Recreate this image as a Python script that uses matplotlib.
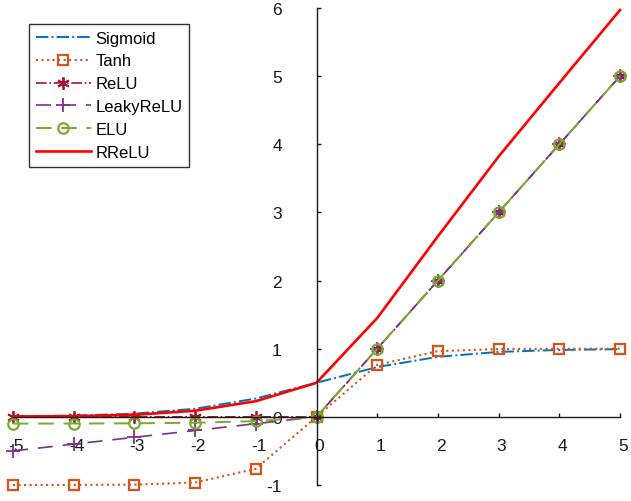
import numpy as np
import matplotlib
matplotlib.use("Agg")
import matplotlib.pyplot as plt
import matplotlib.transforms as mtransforms

plt.rcParams['font.family'] = ['Liberation Sans', 'DejaVu Sans']
plt.rcParams['axes.unicode_minus'] = False

# ---- data ----
x = [-5, -4, -3, -2, -1, 0, 1, 2, 3, 4, 5]
sigmoid = [0.007, 0.018, 0.047, 0.119, 0.269, 0.5, 0.731, 0.881, 0.953, 0.982, 0.993]
tanh = [-1.0, -0.999, -0.995, -0.964, -0.762, 0.0, 0.762, 0.964, 0.995, 0.999, 1.0]
relu = [0, 0, 0, 0, 0, 0, 1, 2, 3, 4, 5]
leaky = [-0.5, -0.4, -0.3, -0.2, -0.1, 0, 1, 2, 3, 4, 5]
elu = [-0.099, -0.098, -0.095, -0.086, -0.063, 0, 1, 2, 3, 4, 5]
rrelu = [0.005, 0.01, 0.03, 0.09, 0.23, 0.5, 1.45, 2.65, 3.82, 4.9, 5.97]

xticks = [-5, -4, -3, -2, -1, 0, 1, 2, 3, 4, 5]
yticks = [-1, 0, 1, 2, 3, 4, 5, 6]

W, H = 631, 502
fig = plt.figure(figsize=(W / 100, H / 100), dpi=100)
ax = fig.add_axes([13 / W, 16 / H, 607 / W, 477 / H])

lw = 1.2
asterisk = (6, 2, 0)
ax.plot(x, sigmoid, color='#0072BD', linestyle='-.', lw=1.4, label='Sigmoid', clip_on=False)
ax.plot(x, tanh, color='#D95319', linestyle=':', lw=1.5, marker='s', ms=7.5,
        mfc='none', mew=1.6, label='Tanh', clip_on=False)
ax.plot(x, relu, color='#A2142F', linestyle='-.', lw=lw, marker=asterisk, ms=9, mew=1.3,
        label='ReLU', clip_on=False)
ax.plot(x, leaky, color='#7E2F8E', lw=lw, dashes=(9, 6), marker='+', ms=10, mew=1.3,
        label='LeakyReLU', clip_on=False)
ax.plot(x, elu, color='#77AC30', lw=1.4, dashes=(8, 5), marker='o', ms=7.5, mfc='none',
        mew=1.6, label='ELU', clip_on=False)
ax.plot(x, rrelu, color='#FF0000', linestyle='-', lw=1.9, label='RReLU', clip_on=False)

ax.set_xlim(-5, 5)
ax.set_ylim(-1, 6)
ax.spines['left'].set_position(('data', 0))
ax.spines['bottom'].set_position(('data', 0))
ax.spines['top'].set_visible(False)
ax.spines['right'].set_visible(False)
for s in ('left', 'bottom'):
    ax.spines[s].set_linewidth(1.0)
    ax.spines[s].set_color('#1a1a1a')

ax.set_xticks(xticks)
ax.set_yticks(yticks)
ax.set_xticklabels([str(v) for v in xticks])
ax.set_yticklabels([str(v) for v in yticks])
ax.tick_params(axis='x', direction='in', length=3, width=1.0, pad=15, labelsize=12.5, colors='#1a1a1a')
ax.tick_params(axis='y', direction='in', length=3, width=1.0, pad=25, labelsize=12.5, colors='#1a1a1a')

off = mtransforms.ScaledTranslation(3 / 100, 0, fig.dpi_scale_trans)
for lab in ax.get_xticklabels():
    lab.set_transform(lab.get_transform() + off)

leg = ax.legend(loc='upper left', bbox_to_anchor=(29 / W, (H - 25) / H),
                bbox_transform=fig.transFigure, borderaxespad=0,
                fontsize=12, handlelength=3.3, handletextpad=0.3,
                labelspacing=0.47, borderpad=0.4, fancybox=False,
                framealpha=1, edgecolor='#333333')
leg.get_frame().set_linewidth(1.0)

fig.savefig('out.png', dpi=100, facecolor='white')
